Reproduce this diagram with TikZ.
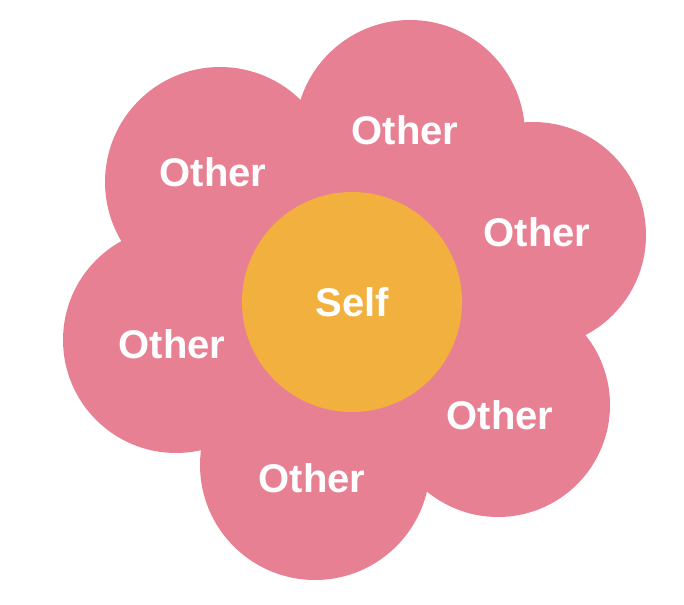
\documentclass[tikz,border=0pt]{standalone}
\usepackage{fontspec}
\setmainfont{Liberation Sans}
\definecolor{petalpink}{HTML}{E88093}
\definecolor{selforange}{HTML}{F2B03E}
\tikzset{
  petal/.style={circle, fill=petalpink, minimum size=#1, inner sep=0pt},
  petaltext/.style={text=white, font=\fontsize{40}{44}\selectfont\bfseries},
}
\begin{document}
\begin{tikzpicture}[x=1pt,y=-1pt]
	\useasboundingbox (0,0) rectangle (684,604);
	% Inneres
		\fill[petalpink] (352,300) circle[radius=175];
	% Blaetter
		\node[petal=230] (p1) at (410,135) {};
		\node[petal=230] (p2) at (220,182) {};
		\node[petal=226] (p3) at (533,235) {};
		\node[petal=226] (p4) at (176,340) {};
		\node[petal=224] (p5) at (498,405) {};
		\node[petal=230] (p6) at (315,465) {};
	% Mitte
		\node[circle, fill=selforange, minimum size=220, inner sep=0pt] (self) at (352,302) {};
	% Texte
		\node[petaltext] (t1) at (405,130) {Other};
		\node[petaltext] (t2) at (213,172) {Other};
		\node[petaltext] (t3) at (537,232) {Other};
		\node[petaltext] (t4) at (172,344) {Other};
		\node[petaltext] (t5) at (500,415) {Other};
		\node[petaltext] (t6) at (312,478) {Other};
		\node[petaltext] (ts) at (352,302) {Self};
\end{tikzpicture}
\end{document}
